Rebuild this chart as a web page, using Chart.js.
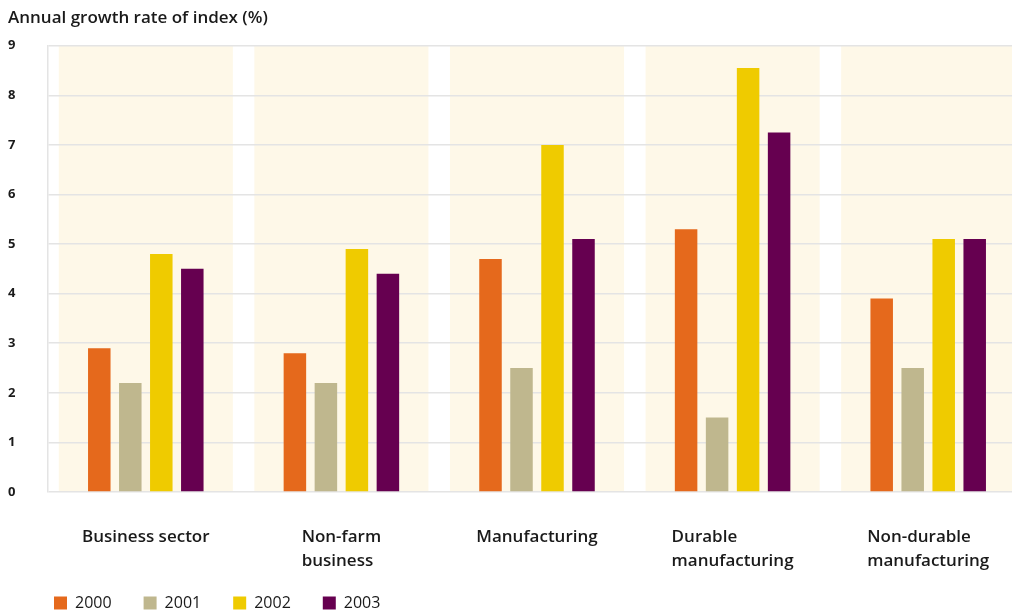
<!DOCTYPE html>
<html>
<head>
<meta charset="utf-8">
<script src="https://cdn.jsdelivr.net/npm/chart.js@4"></script>
<style>
  html, body { margin: 0; padding: 0; background: #fff; overflow: hidden; }
  #wrap { width: 1026px; height: 621px; }
</style>
</head>
<body>
<div id="wrap"><canvas id="growthChart" width="1026" height="621"></canvas></div>
<script>
const categories = [
  ["Business sector"],
  ["Non-farm", "business"],
  ["Manufacturing"],
  ["Durable", "manufacturing"],
  ["Non-durable", "manufacturing"]
];
const years = ["2000", "2001", "2002", "2003"];
const values2000 = [2.9, 2.8, 4.7, 5.3, 3.9];
const values2001 = [2.2, 2.2, 2.5, 1.5, 2.5];
const values2002 = [4.8, 4.9, 7.0, 8.55, 5.1];
const values2003 = [4.5, 4.4, 5.1, 7.25, 5.1];
const yMin = 0;
const yMax = 9;

const colors = ["#e5691c", "#bfb78e", "#efcb00", "#660050"];
const FONT = "'Open Sans', sans-serif";

// pale bands behind each category group
const bandPlugin = {
  id: "bands",
  beforeDraw(chart) {
    const { ctx, scales: { x, y } } = chart;
    const w = (x.getPixelForValue(1) - x.getPixelForValue(0)) * 0.89;
    const top = y.getPixelForValue(yMax);
    const bottom = y.getPixelForValue(yMin);
    ctx.save();
    ctx.fillStyle = "#fef8e8";
    categories.forEach((c, i) => {
      const cx = x.getPixelForValue(i);
      ctx.fillRect(cx - w / 2, top, w, bottom - top);
    });
    ctx.restore();
  }
};

// category labels: block centred under the group, lines left-aligned
const catLabelPlugin = {
  id: "catLabels",
  afterDraw(chart) {
    const { ctx, scales: { x, y } } = chart;
    const base = y.getPixelForValue(yMin) + 50;
    ctx.save();
    ctx.font = "600 17px " + FONT;
    ctx.fillStyle = "#1a1a1a";
    ctx.textAlign = "left";
    ctx.textBaseline = "alphabetic";
    categories.forEach((lines, i) => {
      const widest = Math.max(...lines.map((l) => ctx.measureText(l).width));
      const left = x.getPixelForValue(i) - widest / 2;
      lines.forEach((l, j) => ctx.fillText(l, left, base + j * 24));
    });
    ctx.restore();
  }
};

// nudge legend so it starts under the y axis labels
const legendShift = {
  id: "legendShift",
  afterLayout(chart) {
    chart.legend.left += 14;
  }
};

const ctx = document.getElementById("growthChart").getContext("2d");

new Chart(ctx, {
  type: "bar",
  data: {
    labels: categories,
    datasets: [values2000, values2001, values2002, values2003].map((d, i) => ({
      label: years[i],
      data: d,
      backgroundColor: colors[i],
      borderWidth: 0,
      categoryPercentage: 0.634,
      barPercentage: 0.726
    }))
  },
  options: {
    responsive: false,
    animation: false,
    layout: { padding: { left: 8, right: 0, top: 0, bottom: 0 } },
    plugins: {
      title: {
        display: true,
        text: "Annual growth rate of index (%)",
        align: "start",
        color: "#1a1a1a",
        font: { family: FONT, size: 17, weight: "600" },
        padding: { top: 7.8, bottom: 17.5 }
      },
      legend: {
        position: "bottom",
        align: "start",
        labels: {
          boxWidth: 13,
          boxHeight: 13,
          padding: 32,
          color: "#1a1a1a",
          font: { family: FONT, size: 16 }
        }
      },
      tooltip: { enabled: false }
    },
    scales: {
      x: {
        grid: { display: false },
        border: { display: false },
        ticks: { display: false },
        afterFit(scale) { scale.height = 71; }
      },
      y: {
        min: yMin,
        max: yMax,
        ticks: {
          stepSize: 1,
          padding: 8,
          color: "#1a1a1a",
          font: { family: FONT, size: 13, weight: "bold" },
          crossAlign: "far"
        },
        grid: { color: "#e4e4e4", lineWidth: 1.5, drawTicks: false },
        border: { display: true, color: "#e4e4e4", width: 1.5 },
        afterFit(scale) { scale.width = 40; }
      }
    }
  },
  plugins: [bandPlugin, catLabelPlugin, legendShift]
});
</script>
</body>
</html>
